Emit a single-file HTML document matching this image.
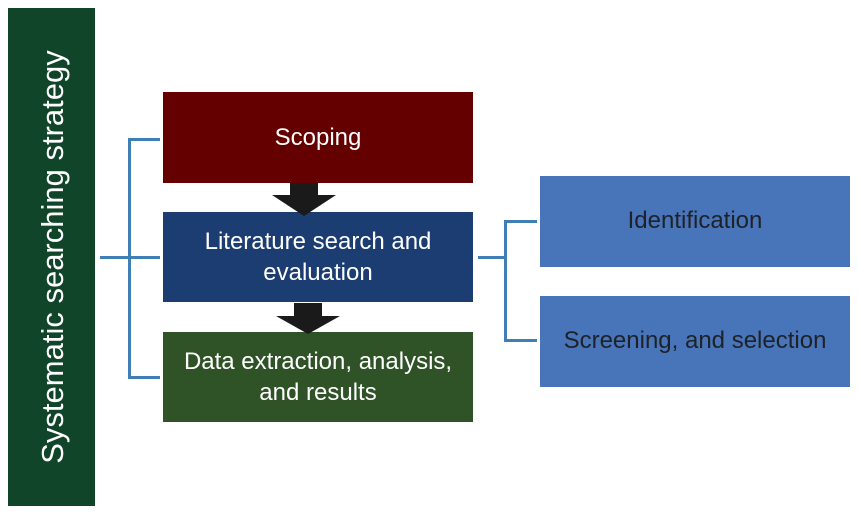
<!DOCTYPE html>
<html><head><style>
body{margin:0;width:858px;height:512px;background:#fff;position:relative;overflow:hidden;font-family:"Liberation Sans",sans-serif}
.b{position:absolute;display:flex;align-items:center;justify-content:center;text-align:center;font-size:24px;line-height:31px;color:#fff}
.l{position:absolute;background:#3f7fb5}
</style></head><body>
<div style="position:absolute;left:8px;top:8px;width:87px;height:498px;background:#11452a"></div>
<div style="position:absolute;left:53px;top:257px;width:0;height:0"><div style="position:absolute;transform:translate(-50%,-50%) rotate(-90deg);white-space:nowrap;color:#fff;font-size:31px;">Systematic searching strategy</div></div>
<div class="b" style="left:163px;top:92px;width:310px;height:91px;background:#640000">Scoping</div>
<div class="b" style="left:163px;top:212px;width:310px;height:90px;background:#1b3d72">Literature search and<br>evaluation</div>
<div class="b" style="left:163px;top:332px;width:310px;height:90px;background:#2f5327">Data extraction, analysis,<br>and results</div>
<div class="b" style="left:540px;top:176px;width:310px;height:91px;background:#4874b9;color:#1e2228;align-items:flex-start"><span style="margin-top:29px">Identification</span></div>
<div class="b" style="left:540px;top:296px;width:310px;height:91px;background:#4874b9;color:#1e2228;align-items:flex-start"><span style="margin-top:29px">Screening, and selection</span></div>
<svg style="position:absolute;left:0;top:0" width="858" height="512">
<polygon points="290,183 318,183 318,195 336,195 304,216 272,195 290,195" fill="#1a1a1a"/>
<polygon points="294,303 322,303 322,316 340,316 308,334 276,316 294,316" fill="#1a1a1a"/>
</svg>
<div class="l" style="left:128px;top:138px;width:3px;height:241px"></div>
<div class="l" style="left:128px;top:138px;width:32px;height:3px"></div>
<div class="l" style="left:128px;top:376px;width:32px;height:3px"></div>
<div class="l" style="left:100px;top:256px;width:60px;height:3px"></div>
<div class="l" style="left:478px;top:256px;width:28px;height:3px"></div>
<div class="l" style="left:504px;top:220px;width:3px;height:122px"></div>
<div class="l" style="left:504px;top:220px;width:33px;height:3px"></div>
<div class="l" style="left:504px;top:339px;width:33px;height:3px"></div>
</body></html>
